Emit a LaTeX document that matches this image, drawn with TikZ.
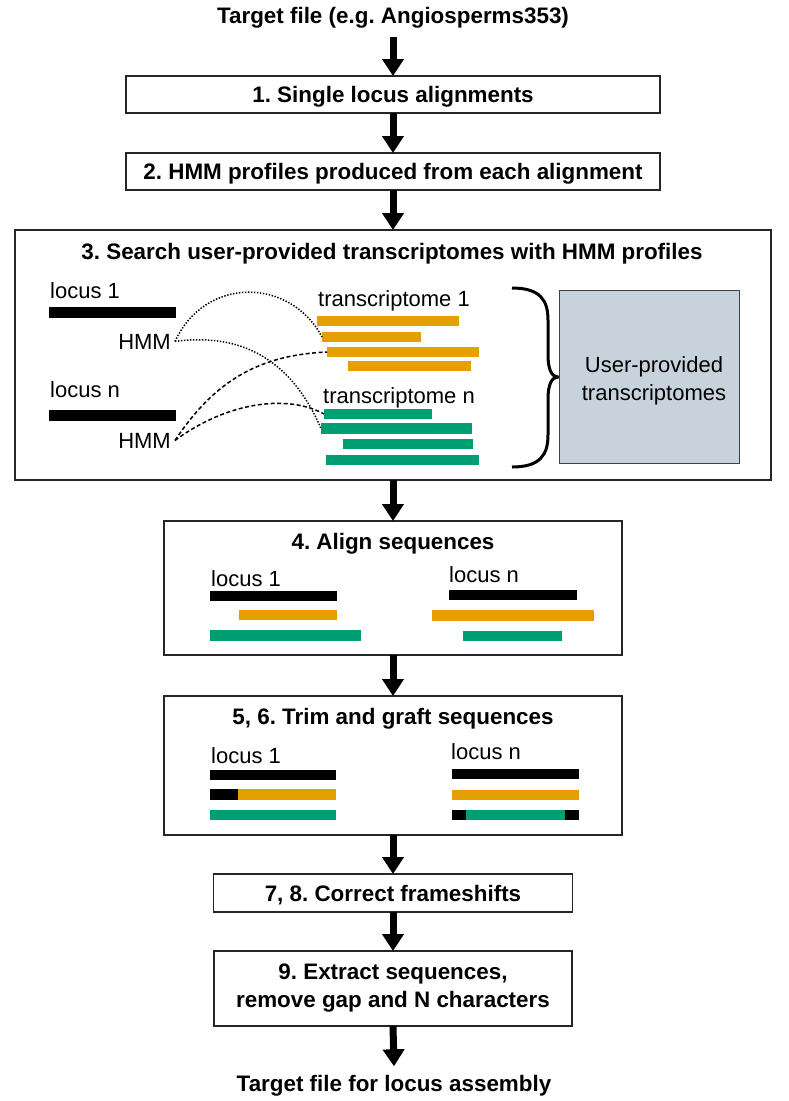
\documentclass[tikz,border=0pt]{standalone}
\usepackage{fontspec}
\setmainfont{Liberation Sans}
\frenchspacing
\usetikzlibrary{arrows.meta}
\definecolor{seqorange}{HTML}{E69F00}
\definecolor{seqgreen}{HTML}{009E73}
\definecolor{userfill}{HTML}{C8D2DC}

\begin{document}
\begin{tikzpicture}[x=1pt,y=-1pt,
  stepbox/.style={draw=black!85, line width=1.2pt, inner sep=0pt, outer sep=0pt},
  steptitle/.style={font=\fontsize{22.4}{28}\selectfont\bfseries, inner sep=0pt, text height=16pt, text depth=0pt},
  lbl/.style={font=\fontsize{22}{28}\selectfont, inner sep=0pt},
  flow/.style={-{Triangle[width=21pt,length=17pt]}, line width=7pt},
  seqbar/.style={fill=#1, inner sep=0pt, outer sep=0pt, minimum height=10.5pt, anchor=west},
  hmmlink/.style={line width=1.5pt, dash pattern=on 1.4pt off 1.6pt},
  hmmlinkb/.style={line width=1.5pt, dash pattern=on 4pt off 2.5pt}]
\useasboundingbox (0,0) rectangle (788,1101);

\node[steptitle] (tgt) at (393,15) {Target file (e.g. Angiosperms353)};

\node[stepbox, steptitle, minimum width=534pt, minimum height=37pt] (b1) at (393,94.5) {1. Single locus alignments};
\node[stepbox, steptitle, minimum width=534pt, minimum height=37pt] (b2) at (393,171.5) {2. HMM profiles produced from each alignment};

% step 3
\node[stepbox, minimum width=756pt, minimum height=250pt] (b3) at (393,355) {};
\node[steptitle] (t3) at (392,251) {3. Search user-provided transcriptomes with HMM profiles};

\node[lbl, anchor=base west] (loc1) at (50,298) {locus 1};
\fill (49,307) rectangle (176,318);
\node[lbl, anchor=base east, inner xsep=4pt] (hmmA) at (175,349) {HMM};
\node[lbl, anchor=base west] (locn) at (50,397) {locus n};
\fill (49,410) rectangle (176,421);
\node[lbl, anchor=base east, inner xsep=4pt] (hmmB) at (175,448) {HMM};

\node[lbl, anchor=base west] (tr1) at (318,306) {transcriptome 1};
\node[seqbar=seqorange, minimum width=142pt] (o1) at (317,321) {};
\node[seqbar=seqorange, minimum width=99pt] (o2) at (322,337) {};
\node[seqbar=seqorange, minimum width=152pt] (o3) at (327,352) {};
\node[seqbar=seqorange, minimum width=123pt] (o4) at (348,366) {};

\node[lbl, anchor=base west] (trn) at (323,403) {transcriptome n};
\node[seqbar=seqgreen, minimum width=108pt] (g1) at (324,414) {};
\node[seqbar=seqgreen, minimum width=151pt] (g2) at (321,428.5) {};
\node[seqbar=seqgreen, minimum width=130pt] (g3) at (343,444) {};
\node[seqbar=seqgreen, minimum width=153pt] (g4) at (326,460) {};

\draw[hmmlink] (hmmA.east) .. controls (205,276) and (290,277) .. (o2.west);
\draw[hmmlink] (hmmA.east) .. controls (260,330) and (300,380) .. (g2.west);
\draw[hmmlinkb] (hmmB.east) .. controls (215,380) and (260,355) .. (o3.west);
\draw[hmmlinkb] (hmmB.east) .. controls (230,400) and (290,395) .. (g1.west);

\draw[line width=3pt] (512,288) .. controls (540,288) and (548,300) .. (548,320) -- (548,355)
  .. controls (548,370) and (552,377) .. (558,377) .. controls (552,377) and (548,384) .. (548,399)
  -- (548,435) .. controls (548,455) and (540,467) .. (512,467);
\node[draw=black!75, line width=1pt, fill=userfill, minimum width=180pt, minimum height=173pt] (user) at (649,376.5) {};
\node[lbl, align=center] (userlbl) at (654,380.5) {User-provided\\transcriptomes};

% step 4
\node[stepbox, minimum width=458pt, minimum height=134pt] (b4) at (393,588) {};
\node[steptitle] (t4) at (393,541) {4. Align sequences};
\node[lbl, anchor=base west] (al1) at (211,586) {locus 1};
\fill (210,591) rectangle (337,601);
\fill[seqorange] (239,610) rectangle (337,620);
\fill[seqgreen] (210,630) rectangle (361,641);
\node[lbl, anchor=base west] (aln) at (449,582) {locus n};
\fill (449,590) rectangle (577,600);
\fill[seqorange] (432,610) rectangle (594,621);
\fill[seqgreen] (463,631) rectangle (562,641);

% steps 5, 6
\node[stepbox, minimum width=458pt, minimum height=139pt] (b5) at (393,765.5) {};
\node[steptitle] (t5) at (393,716) {5, 6. Trim and graft sequences};
\node[lbl, anchor=base west] (tg1) at (211,763) {locus 1};
\fill (210,770) rectangle (336,780);
\fill (210,789) rectangle (238,800);
\fill[seqorange] (238,789) rectangle (336,800);
\fill[seqgreen] (210,810) rectangle (336,820);
\node[lbl, anchor=base west] (tgn) at (451,759) {locus n};
\fill (452,769) rectangle (579,779);
\fill[seqorange] (452,790) rectangle (579,800);
\fill (452,810) rectangle (466,820);
\fill[seqgreen] (466,810) rectangle (565,820);
\fill (565,810) rectangle (579,820);

% steps 7 to 9
\node[stepbox, steptitle, minimum width=359pt, minimum height=38pt] (b7) at (393,893) {7, 8. Correct frameshifts};
\node[stepbox, font=\fontsize{22.4}{28}\selectfont\bfseries, align=center, minimum width=358pt, minimum height=75pt] (b9) at (393,988.5) {9. Extract sequences,\\remove gap and N characters};

\node[steptitle] (out) at (394,1083.5) {Target file for locus assembly};

\draw[flow] ([yshift=-14pt]tgt.south) -- (b1.north);
\draw[flow] (b1.south) -- (b2.north);
\draw[flow] (b2.south) -- (b3.north);
\draw[flow] (b3.south) -- (b4.north);
\draw[flow] (b4.south) -- (b5.north);
\draw[flow] (b5.south) -- (b7.north);
\draw[flow] (b7.south) -- (b9.north);
\draw[flow] (b9.south) -- ([yshift=9pt]out.north);
\end{tikzpicture}
\end{document}
